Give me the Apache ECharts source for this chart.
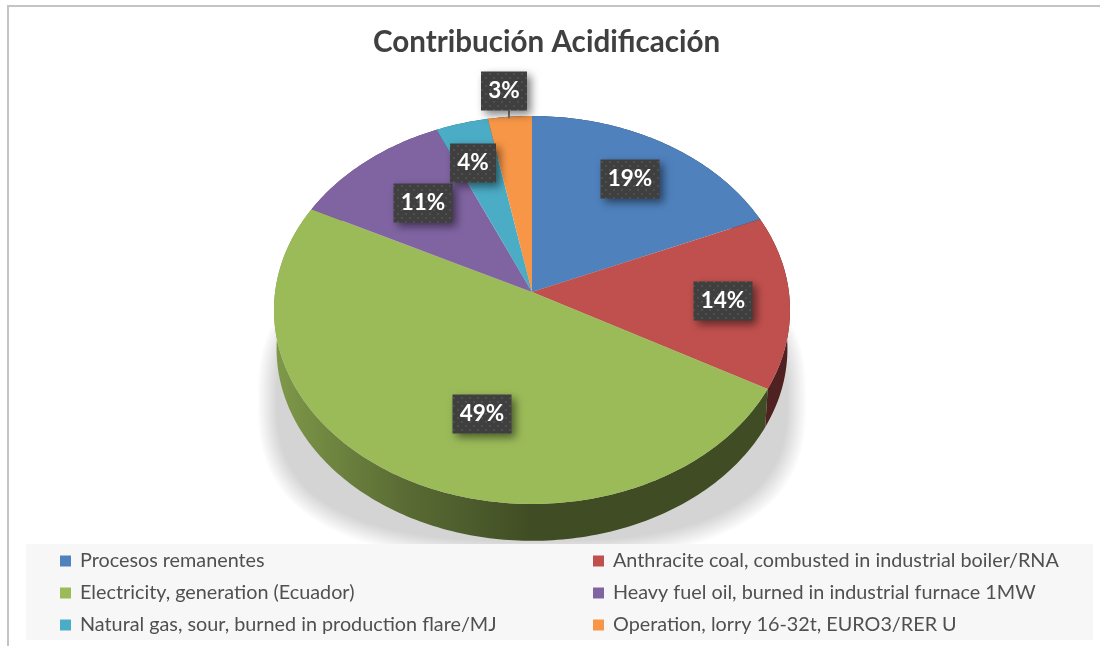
<!DOCTYPE html>
<html>
<head>
<meta charset="utf-8">
<style>html,body{margin:0;padding:0;background:#fff}#c{width:1100px;height:646px}</style>
<script src="https://cdn.jsdelivr.net/npm/echarts@6/dist/echarts.min.js"></script>
</head>
<body>
<div id="c"></div>
<script>
const chartTitle = 'Contribución Acidificación';
const categories = [
  'Procesos remanentes',
  'Anthracite coal, combusted in industrial boiler/RNA',
  'Electricity, generation (Ecuador)',
  'Heavy fuel oil, burned in industrial furnace 1MW',
  'Natural gas, sour, burned in production flare/MJ',
  'Operation, lorry 16-32t, EURO3/RER U'
];
const values = [18.6, 14.4, 49.4, 11, 3.6, 3.0];
const colors = ['#4f81bd', '#c0504d', '#9bbb59', '#8064a2', '#4bacc6', '#f79646'];

// Layout of the perspective pie and of the label boxes (pixel nudges from the default anchor).
const apex = {x: 532, y: 292}, R = {x: 256.9, y: 192.3}, persp = 0.0927;
const depth = {dy: 39, scale: 0.99};
const labelNudge = [[1, -4], [6, 2], [41, -8], [13, 7], [-7, -5], [-12, -72]];

const total = values.reduce((a, b) => a + b, 0);
const starts = values.map((v, i) => values.slice(0, i).reduce((a, b) => a + b, 0));

function project(frac, r, dy, scale) {
  const th = frac * 2 * Math.PI, u = Math.sin(th) * r, v = Math.cos(th) * r;
  const w = 1 + persp * v, s = scale === undefined ? 1 : scale;
  return [apex.x + s * R.x * u / w, apex.y + (dy || 0) - s * R.y * v / w];
}
function arc(i, dy, scale) {
  const a = starts[i] / total, b = (starts[i] + values[i]) / total, pts = [];
  const n = Math.max(6, Math.ceil((b - a) * 360));
  for (let k = 0; k <= n; k++) pts.push(project(a + (b - a) * k / n, 1, dy, scale));
  return pts;
}
function shade(hex, f) {
  const n = parseInt(hex.slice(1), 16);
  return 'rgb(' + [(n >> 16) & 255, (n >> 8) & 255, n & 255].map(c => Math.round(c * f)).join(',') + ')';
}
function wallFill(c) {
  return {type: 'linear', x: 274, y: 0, x2: 790, y2: 0, global: true, colorStops: [
    {offset: 0, color: shade(c, 0.82)}, {offset: 0.25, color: shade(c, 0.58)},
    {offset: 0.5, color: shade(c, 0.41)}, {offset: 1, color: shade(c, 0.41)}]};
}
// Dotted texture of the data-label boxes.
const tile = document.createElement('canvas');
tile.width = tile.height = 8;
(function () {
  const g = tile.getContext('2d');
  g.fillStyle = '#3f3f3f'; g.fillRect(0, 0, 8, 8);
  g.fillStyle = '#4f4f4f'; g.fillRect(1, 1, 2, 2); g.fillRect(5, 5, 2, 2);
})();

const series = [];
// Soft shadow under the pie: a stack of faint rounded outlines.
series.push({
  type: 'custom', name: 'shadow', coordinateSystem: 'none', z: 1, silent: true, data: [0],
  renderItem: () => {
    const kids = [];
    for (let ring = 0; ring < 14; ring++) {
      const inset = ring * 1.4, pts = [];
      for (let k = 0; k < 180; k++) {
        const t = k / 180 * 2 * Math.PI, c = Math.cos(t), s = Math.sin(t), e = 0.75;
        pts.push([532 + (274 - inset) * Math.sign(c) * Math.pow(Math.abs(c), e),
                  400 + (160 - inset) * Math.sign(s) * Math.pow(Math.abs(s), e)]);
      }
      kids.push({type: 'polygon', shape: {points: pts}, style: {fill: 'rgba(0,0,0,0.0165)'}});
    }
    return {type: 'group', children: kids};
  }
});
// Side wall.
series.push({
  type: 'custom', name: 'wall', coordinateSystem: 'none', z: 3, silent: true, data: values,
  renderItem: (p) => {
    const i = p.dataIndex;
    const pts = arc(i, 0).concat(arc(i, depth.dy, depth.scale).reverse());
    return {type: 'polygon', shape: {points: pts}, style: {fill: wallFill(colors[i])}};
  }
});
// Top face, one series per category so the legend can name it.
categories.forEach((name, i) => {
  series.push({
    type: 'custom', name, coordinateSystem: 'none', z: 4, silent: true, data: [values[i]],
    itemStyle: {color: colors[i]},
    renderItem: () => ({type: 'polygon', shape: {points: [[apex.x, apex.y]].concat(arc(i, 0))},
      style: {fill: colors[i]}})
  });
});
// Data labels.
series.push({
  type: 'custom', name: 'labels', coordinateSystem: 'none', z: 6, silent: true, data: values,
  renderItem: (p) => {
    const i = p.dataIndex, pct = Math.round(values[i] / total * 100) + '%';
    const a = project((starts[i] + values[i] / 2) / total, 0.72);
    const cx = Math.round(a[0] + labelNudge[i][0]), cy = Math.round(a[1] + labelNudge[i][1]);
    const w = pct.length > 2 ? 59 : 46, h = 39;
    const kids = [];
    if (labelNudge[i][1] < -50) {
      kids.push({type: 'line', shape: {x1: cx + 5, y1: cy + h / 2, x2: cx + 5, y2: cy + h / 2 + 8},
        style: {stroke: '#7f7f7f', lineWidth: 2}});
    }
    kids.push({type: 'rect', shape: {x: cx - w / 2, y: cy - h / 2, width: w, height: h},
      style: {fill: {image: tile, repeat: 'repeat'}, shadowColor: 'rgba(0,0,0,0.5)', shadowBlur: 8, shadowOffsetX: 4, shadowOffsetY: 4}});
    kids.push({type: 'text', x: cx, y: cy, style: {text: pct, fill: '#fff', align: 'center', verticalAlign: 'middle',
      font: 'bold 22.5px Lato'}});
    return {type: 'group', children: kids};
  }
});

const legendText = {color: '#505050', fontFamily: 'Lato', fontSize: 19.8, padding: [0, 0, 0, 4]};
const option = {
  animation: false,
  title: {text: chartTitle, left: 368, top: 22, textStyle: {fontFamily: 'Lato', fontWeight: 'bold', fontSize: 29.6, color: '#404040'}},
  legend: [
    {left: 55, top: 546, orient: 'vertical', icon: 'rect', itemWidth: 11, itemHeight: 11, itemGap: 12, selectedMode: false, z: 5,
      data: [categories[0], categories[2], categories[4]], textStyle: legendText},
    {left: 588, top: 546, orient: 'vertical', icon: 'rect', itemWidth: 11, itemHeight: 11, itemGap: 12, selectedMode: false, z: 5,
      data: [categories[1], categories[3], categories[5]], textStyle: legendText}
  ],
  graphic: [
    {type: 'polyline', z: 0, silent: true, shape: {points: [[8, 646], [8, 6], [1100, 6]]}, style: {stroke: '#c4c4c4', fill: null, lineWidth: 2}},
    {type: 'rect', z: 2, silent: true, shape: {x: 26, y: 544, width: 1067, height: 96}, style: {fill: '#f7f7f7'}}
  ],
  series
};
echarts.init(document.getElementById('c'), null, {renderer: 'canvas'}).setOption(option);
</script>
</body>
</html>
